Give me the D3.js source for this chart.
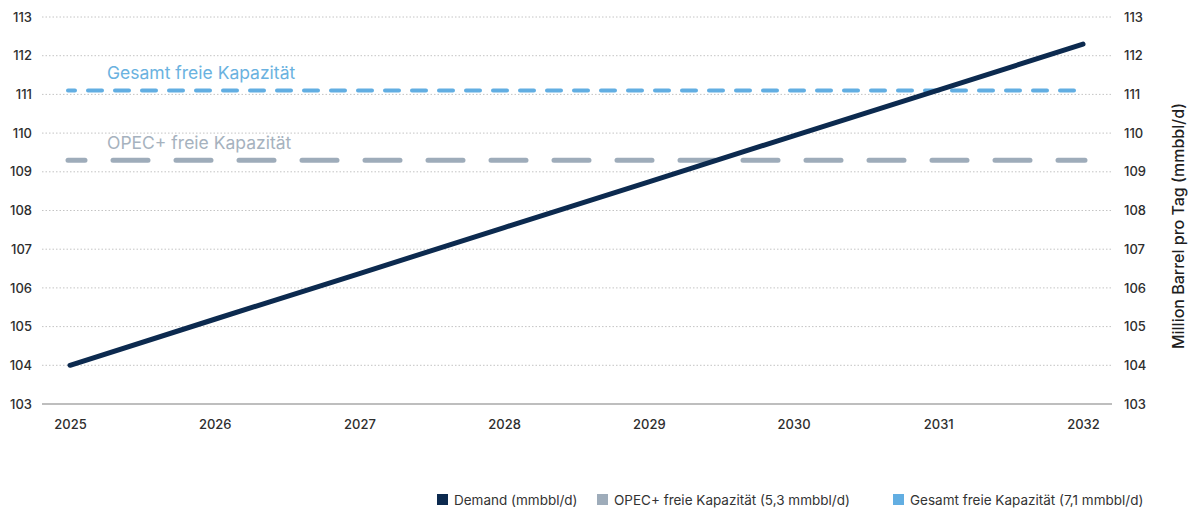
<!DOCTYPE html>
<html><head><meta charset="utf-8">
<script src="https://cdn.jsdelivr.net/npm/d3@7"></script>
<style>
body{margin:0;background:#fff;}
svg{display:block;font-family:Inter,"Noto Sans",sans-serif;}
</style></head>
<body><svg id="c" width="1188" height="512"></svg>
<script>
const years = [2025, 2026, 2027, 2028, 2029, 2030, 2031, 2032];
const demand = [104.0, 105.19, 106.37, 107.56, 108.74, 109.93, 111.11, 112.3];
const opecCapacity = 109.3;
const totalCapacity = 111.1;
const yTicks = [103, 104, 105, 106, 107, 108, 109, 110, 111, 112, 113];
const legendLabels = ["Demand (mmbbl/d)", "OPEC+ freie Kapazität (5,3 mmbbl/d)", "Gesamt freie Kapazität (7,1 mmbbl/d)"];
const colors = ["#0c2a4f", "#9eacba", "#62aee2"];

const svg = d3.select("#c");
const x = d3.scaleLinear().domain([2025, 2032]).range([70, 1083]);
const y = d3.scaleLinear().domain([103, 113]).range([404, 17]);
const gx0 = 42, gx1 = 1112;

// gridlines
svg.append("g").selectAll("line").data(yTicks.filter(d => d !== 103)).join("line")
  .attr("x1", gx0).attr("x2", gx1).attr("y1", d => y(d)).attr("y2", d => y(d))
  .attr("stroke", "#c4c4c4").attr("stroke-width", 1).attr("stroke-dasharray", "1.5,2");
svg.append("line").attr("x1", gx0).attr("x2", gx1).attr("y1", y(103)).attr("y2", y(103))
  .attr("stroke", "#a9a9a9").attr("stroke-width", 1.5);

// left & right tick labels
const leftAxis = d3.axisLeft(y).tickValues(yTicks).tickSize(0).tickPadding(0);
const gl = svg.append("g").attr("transform", "translate(32,0)").call(leftAxis);
const rightAxis = d3.axisRight(y).tickValues(yTicks).tickSize(0).tickPadding(0);
const gr = svg.append("g").attr("transform", "translate(1124,0)").call(rightAxis);
[gl, gr].forEach(g => {
  g.select(".domain").remove();
  g.selectAll("text").attr("font-size", 13).attr("font-weight", 500).attr("fill", "#2e2e2e")
    .attr("font-family", "Inter, sans-serif");
});

// x axis labels
const bottomAxis = d3.axisBottom(x).tickValues(years).tickFormat(d3.format("d")).tickSize(0).tickPadding(0);
const gb = svg.append("g").attr("transform", "translate(0,420)").call(bottomAxis);
gb.select(".domain").remove();
gb.selectAll("text").attr("font-size", 13).attr("font-weight", 500).attr("fill", "#2e2e2e")
  .attr("font-family", "Inter, sans-serif");

// capacity lines
svg.append("line").attr("x1", x(2025) - 2).attr("x2", x(2032) + 2)
  .attr("y1", y(opecCapacity)).attr("y2", y(opecCapacity))
  .attr("stroke", colors[1]).attr("stroke-width", 5).attr("stroke-linecap", "round")
  .attr("stroke-dasharray", "35,28").attr("stroke-dashoffset", 18);
svg.append("line").attr("x1", x(2025) - 2).attr("x2", x(2032) + 2)
  .attr("y1", y(totalCapacity)).attr("y2", y(totalCapacity))
  .attr("stroke", colors[2]).attr("stroke-width", 4).attr("stroke-linecap", "round")
  .attr("stroke-dasharray", "14,13").attr("stroke-dashoffset", 7);

// demand line
const line = d3.line().x((d, i) => x(years[i])).y(d => y(d));
svg.append("path").datum(demand).attr("d", line).attr("fill", "none")
  .attr("stroke", colors[0]).attr("stroke-width", 5).attr("stroke-linecap", "round");

// inline labels
svg.append("text").attr("x", 107).attr("y", y(totalCapacity) - 12).text("Gesamt freie Kapazität")
  .attr("font-size", 17.5).attr("fill", "#6ab2e0").attr("font-family", "Inter, sans-serif");
svg.append("text").attr("x", 107).attr("y", y(opecCapacity) - 11).text("OPEC+ freie Kapazität")
  .attr("font-size", 17.5).attr("fill", "#a6b2be").attr("font-family", "Inter, sans-serif");

// right axis title
svg.append("text").attr("transform", "translate(1184,226) rotate(-90)").attr("text-anchor", "middle")
  .text("Million Barrel pro Tag (mmbbl/d)").attr("font-size", 16).attr("font-weight", 500)
  .attr("fill", "#1e1e1e").attr("font-family", "Inter, sans-serif");

// legend
const legX = [437, 597, 893];
const lg = svg.append("g").selectAll("g").data(legendLabels).join("g")
  .attr("transform", (d, i) => `translate(${legX[i]},494)`);
lg.append("rect").attr("width", 11).attr("height", 11).attr("fill", (d, i) => colors[i]);
lg.append("text").attr("x", 17).attr("y", 10.5).text(d => d).attr("font-size", 13.5)
  .attr("fill", "#333").attr("font-family", "Inter, sans-serif");
</script></body></html>
